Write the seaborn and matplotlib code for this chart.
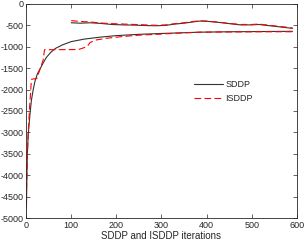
import numpy as np
import pandas as pd
import seaborn as sns
import matplotlib.pyplot as plt

# SDDP lower bound (solid black)
sddp_lb_it = [1, 2, 3, 5, 7, 9, 12, 16, 20, 25, 31, 38, 45, 55, 65, 80, 100,
              130, 165, 200, 250, 300, 385, 450, 520, 590]
sddp_lb = [-4750, -4000, -3500, -3050, -2800, -2550, -2250, -2000, -1800, -1640,
           -1520, -1380, -1250, -1130, -1040, -960, -880, -820, -775, -740,
           -710, -690, -660, -650, -645, -640]

# SDDP upper bound
sddp_ub_it = [100, 120, 142, 165, 190, 215, 240, 265, 289, 310, 330, 350, 370,
              385, 400, 430, 450, 475, 500, 515, 540, 565, 590]
sddp_ub = [-440, -450, -440, -455, -480, -490, -495, -505, -510, -500, -470,
           -450, -420, -400, -405, -435, -460, -490, -490, -480, -510, -540, -570]

# ISDDP lower bound (dashed red)
isddp_lb_it = [0, 2, 4, 6, 8, 10, 12, 24, 38, 41, 116, 135, 142, 156, 180, 215,
               250, 289, 340, 385, 450, 520, 590]
isddp_lb = [-4800, -4000, -3200, -2800, -2400, -2100, -1760, -1740, -1310, -1070,
            -1065, -1000, -900, -840, -800, -760, -730, -710, -680, -660, -655,
            -650, -650]

# ISDDP upper bound
isddp_ub_it = [100, 120, 140, 165, 190, 215, 240, 265, 289, 310, 330, 350, 370,
               385, 400, 430, 450, 475, 500, 515, 540, 565, 590]
isddp_ub = [-390, -410, -420, -445, -460, -470, -480, -490, -500, -490, -460,
            -440, -410, -395, -400, -430, -455, -480, -480, -470, -500, -530, -560]

sns.set_theme(style='ticks')
plt.rcParams['font.family'] = ['Liberation Sans', 'DejaVu Sans']
plt.rcParams['font.size'] = 7
plt.rcParams['axes.unicode_minus'] = False

fig = plt.figure(figsize=(3.04, 2.45), dpi=100)
ax = fig.add_axes([0.0855, 0.110, 0.8915, 0.874])

sns.lineplot(x=sddp_lb_it, y=sddp_lb, color='#333333', lw=0.8, label='SDDP', ax=ax)
sns.lineplot(x=sddp_ub_it, y=sddp_ub, color='#333333', lw=0.8, ax=ax)
sns.lineplot(x=isddp_lb_it, y=isddp_lb, color='#ff0000', lw=0.8,
             linestyle=(0, (6, 3)), label='ISDDP', ax=ax)
sns.lineplot(x=isddp_ub_it, y=isddp_ub, color='#ff0000', lw=0.8,
             linestyle=(0, (6, 3)), ax=ax)

ax.set_xlim(0, 600)
ax.set_ylim(-5000, 0)
ax.set_xticks(np.arange(0, 601, 100))
ax.set_yticks(np.arange(-5000, 1, 500))
ax.tick_params(direction='in', length=3, width=0.5, labelsize=6.5, colors='#262626',
               top=True, right=True, pad=2)
ax.tick_params(axis='y', pad=1.5)
for s in ax.spines.values():
    s.set_linewidth(0.6)
    s.set_color('#262626')
ax.set_xlabel('SDDP and ISDDP iterations', fontsize=7, labelpad=1)
ax.set_ylabel('')

ax.legend(loc='center left', bbox_to_anchor=(0.59, 0.59), frameon=False,
          fontsize=6.5, handlelength=3.2, handletextpad=0.3, labelspacing=0.5)

fig.savefig('out.png', dpi=100)
